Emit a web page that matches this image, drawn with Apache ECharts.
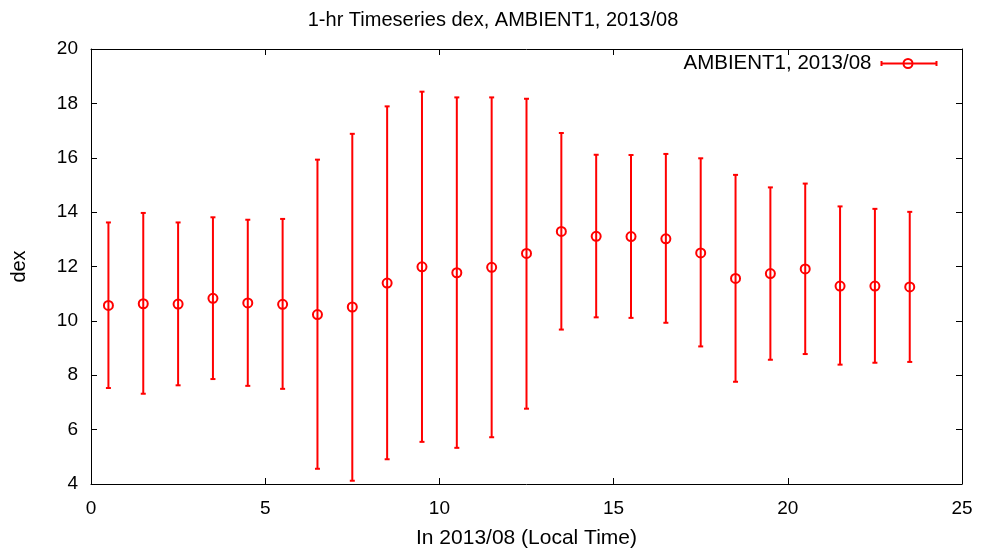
<!DOCTYPE html>
<html>
<head>
<meta charset="utf-8">
<script src="https://cdn.jsdelivr.net/npm/echarts@6/dist/echarts.min.js"></script>
<style>html,body{margin:0;padding:0;background:#fff}#c{width:986px;height:559px}</style>
</head>
<body>
<div id="c"></div>
<script>
var hours = [0.5,1.5,2.5,3.5,4.5,5.5,6.5,7.5,8.5,9.5,10.5,11.5,12.5,13.5,14.5,15.5,16.5,17.5,18.5,19.5,20.5,21.5,22.5,23.5];
var means = [10.57,10.63,10.62,10.83,10.66,10.61,10.23,10.51,11.39,11.99,11.77,11.97,12.48,13.29,13.11,13.10,13.02,12.50,11.56,11.74,11.91,11.28,11.28,11.25];
var highs = [13.62,13.97,13.62,13.81,13.72,13.75,15.93,16.88,17.89,18.43,18.22,18.22,18.17,16.91,16.11,16.10,16.14,15.98,15.37,14.91,15.05,14.21,14.12,14.01];
var lows  = [7.53,7.32,7.63,7.86,7.61,7.50,4.56,4.12,4.91,5.55,5.33,5.72,6.77,9.68,10.13,10.11,9.93,9.06,7.76,8.57,8.78,8.39,8.46,8.49];
var xTicks = [0,5,10,15,20,25];
var yTicks = [4,6,8,10,12,14,16,18,20];
var seriesName = 'AMBIENT1, 2013/08';

var data = hours.map(function(h,i){return [h, means[i], lows[i], highs[i]];});
var RED = '#ff0000';
var FONT = 'Liberation Sans';

var chart = echarts.init(document.getElementById('c'));
function axisBase(extra){
  return Object.assign({
    axisLine:{show:true,onZero:false,lineStyle:{color:'#000',width:1}},
    axisTick:{show:true,inside:true,length:6,lineStyle:{color:'#000'}},
    splitLine:{show:false}
  }, extra);
}
chart.setOption({
  animation:false,
  title:{text:'1-hr Timeseries dex, AMBIENT1, 2013/08',left:'center',top:5,
    textStyle:{fontSize:20,fontWeight:'normal',color:'#000',fontFamily:FONT}},
  grid:{left:91,right:24,top:49,bottom:75,show:false},
  xAxis:[
    axisBase({type:'value',min:xTicks[0],max:xTicks[xTicks.length-1],interval:5,
      name:'In 2013/08 (Local Time)',nameLocation:'middle',nameGap:44,
      nameTextStyle:{fontSize:21,color:'#000',fontFamily:FONT},
      axisLabel:{color:'#000',fontSize:19,fontFamily:FONT,margin:15}}),
    axisBase({type:'value',position:'top',min:0,max:25,interval:5,axisLabel:{show:false}})
  ],
  yAxis:[
    axisBase({type:'value',min:yTicks[0],max:yTicks[yTicks.length-1],interval:2,
      name:'dex',nameLocation:'middle',nameGap:62,nameRotate:90,
      nameTextStyle:{fontSize:20,color:'#000',fontFamily:FONT},
      axisLabel:{color:'#000',fontSize:19,fontFamily:FONT,margin:13}}),
    axisBase({type:'value',position:'right',min:4,max:20,interval:2,axisLabel:{show:false}})
  ],
  series:[{
    type:'custom',
    name:seriesName,
    data:data,
    encode:{x:0,y:[1,2,3]},
    renderItem:function(params,api){
      var x = api.value(0);
      var pm = api.coord([x, api.value(1)]);
      var pl = api.coord([x, api.value(2)]);
      var ph = api.coord([x, api.value(3)]);
      var cw = 2.5;
      var st = {stroke:RED,lineWidth:2};
      return {type:'group',children:[
        {type:'line',shape:{x1:pl[0],y1:pl[1],x2:ph[0],y2:ph[1]},style:st},
        {type:'line',shape:{x1:pl[0]-cw,y1:pl[1],x2:pl[0]+cw,y2:pl[1]},style:st},
        {type:'line',shape:{x1:ph[0]-cw,y1:ph[1],x2:ph[0]+cw,y2:ph[1]},style:st},
        {type:'circle',shape:{cx:pm[0],cy:pm[1],r:4.5},style:{fill:'none',stroke:RED,lineWidth:2}}
      ]};
    }
  }],
  graphic:[{
    type:'group',right:47,top:53,
    children:[
      {type:'text',x:-4,y:11,style:{text:seriesName,fill:'#000',font:'20.5px "Liberation Sans"',align:'right',verticalAlign:'middle'}},
      {type:'line',shape:{x1:6,y1:11,x2:61,y2:11},style:{stroke:RED,lineWidth:2}},
      {type:'line',shape:{x1:6,y1:8.5,x2:6,y2:13.5},style:{stroke:RED,lineWidth:2}},
      {type:'line',shape:{x1:61,y1:8.5,x2:61,y2:13.5},style:{stroke:RED,lineWidth:2}},
      {type:'circle',shape:{cx:32.5,cy:11,r:4.5},style:{fill:'none',stroke:RED,lineWidth:2}}
    ]
  }]
});
</script>
</body>
</html>
